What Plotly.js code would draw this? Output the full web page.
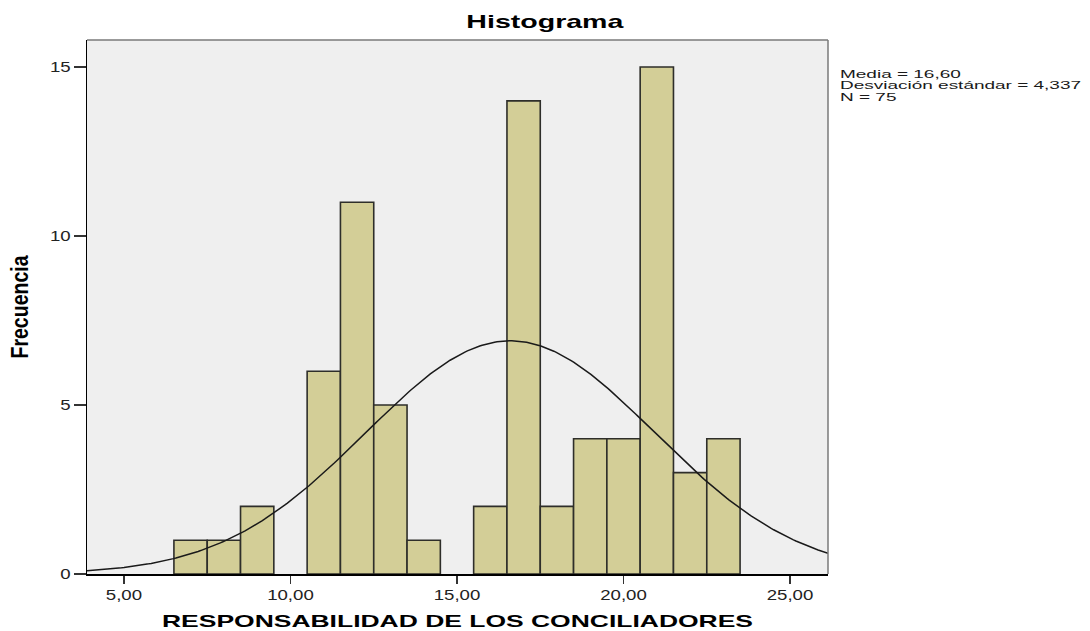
<!DOCTYPE html>
<html>
<head>
<meta charset="utf-8">
<script src="https://cdn.plot.ly/plotly-3.0.1.min.js"></script>
<style>
  html, body { margin: 0; padding: 0; background: #ffffff; }
  #chart { width: 1090px; height: 631px; }
</style>
</head>
<body>
<div id="chart"></div>
<script>
// ---- data ----
const binCenters = [7, 8, 9, 10, 11, 12, 13, 14, 15, 16, 17, 18, 19, 20, 21, 22, 23];
const binCounts  = [1, 1, 2, 0, 6, 11, 5, 1, 0, 2, 14, 2, 4, 4, 15, 3, 4];
const statMean = 16.60;
const statSD = 4.337;
const statN = 75;
const xTickVals = [5, 10, 15, 20, 25];
const xTickText = ["5,00", "10,00", "15,00", "20,00", "25,00"];
const yTickVals = [0, 5, 10, 15];
const yTickText = ["0", "5", "10", "15"];
const titleText = "Histograma";
const xTitleText = "RESPONSABILIDAD DE LOS CONCILIADORES";
const yTitleText = "Frecuencia";

// ---- styling ----
const FONT = "Liberation Sans, Arial, sans-serif";
const xRange = [3.89, 26.14];
const yRange = [0, 15.8];
const binWidth = 1;

// bars (zero bins omitted from drawing)
const bx = [], by = [];
binCenters.forEach((c, i) => { if (binCounts[i] > 0) { bx.push(c); by.push(binCounts[i]); } });

// fitted normal curve from the stated statistics
const cx = [], cy = [];
const steps = 300;
for (let k = 0; k <= steps; k++) {
  const x = xRange[0] + (xRange[1] - xRange[0]) * k / steps;
  const z = (x - statMean) / statSD;
  cx.push(x);
  cy.push(statN * binWidth / (statSD * Math.sqrt(2 * Math.PI)) * Math.exp(-0.5 * z * z));
}

const fmt = (v, d) => v.toFixed(d).replace('.', ',');

const traces = [
  {
    type: 'bar', x: bx, y: by, width: binWidth,
    marker: { color: '#d3ce97', line: { color: '#2e2e2a', width: 1.6 } },
    hoverinfo: 'x+y', showlegend: false
  },
  {
    type: 'scatter', mode: 'lines', x: cx, y: cy,
    line: { color: '#1a1a1a', width: 1.5 },
    hoverinfo: 'skip', showlegend: false
  }
];

const annY = [0.936, 0.915, 0.894];
const annText = [
  "Media = " + fmt(statMean, 2),
  "Desviación estándar = " + fmt(statSD, 3),
  "N = " + statN
];

const layout = {
  width: 1090, height: 631,
  margin: { l: 87, r: 262, t: 40, b: 57, pad: 0 },
  paper_bgcolor: '#ffffff',
  plot_bgcolor: '#efefef',
  bargap: 0,
  font: { family: FONT, color: '#1a1a1a' },
  title: {
    text: titleText,
    font: { family: FONT, size: 19, color: '#000000', weight: 'bold' },
    x: 0.5, xref: 'container', xanchor: 'center',
    y: 1 - 21 / 631, yref: 'container', yanchor: 'middle'
  },
  xaxis: {
    range: xRange, autorange: false,
    tickmode: 'array', tickvals: xTickVals, ticktext: xTickText,
    ticks: 'outside', ticklen: 8, tickwidth: 1.5, tickcolor: '#333333',
    tickfont: { family: FONT, size: 14, color: '#222222' },
    showline: true, linecolor: '#000000', linewidth: 1.5,
    showgrid: false, zeroline: false, automargin: false,
    title: { text: xTitleText, standoff: 15,
             font: { family: FONT, size: 17, color: '#000000', weight: 'bold' } }
  },
  yaxis: {
    range: yRange, autorange: false,
    tickmode: 'array', tickvals: yTickVals, ticktext: yTickText,
    ticks: 'outside', ticklen: 12, tickwidth: 1.5, tickcolor: '#333333',
    tickfont: { family: FONT, size: 14, color: '#222222' },
    showline: true, linecolor: '#000000', linewidth: 1.5,
    showgrid: false, zeroline: false, automargin: false,
    title: { text: yTitleText, standoff: 20,
             font: { family: FONT, size: 23, color: '#000000', weight: 'bold' } }
  },
  shapes: [
    { type: 'line', xref: 'paper', yref: 'paper', x0: 0, x1: 1, y0: 1, y1: 1,
      line: { color: '#7a7a7a', width: 1.5 } },
    { type: 'line', xref: 'paper', yref: 'paper', x0: 1, x1: 1, y0: 0, y1: 1,
      line: { color: '#7a7a7a', width: 1.5 } }
  ],
  annotations: annText.map((t, i) => ({
    text: t, xref: 'paper', yref: 'paper', x: 1.0135, y: annY[i],
    xanchor: 'left', yanchor: 'middle', showarrow: false, align: 'left',
    font: { family: FONT, size: 11.5, color: '#1a1a1a' }
  }))
};

function stretch(el, factor, keep) {
  if (!el) return;
  const w = el.getComputedTextLength();
  if (!w) return;
  const b0 = el.getBBox();
  el.setAttribute('textLength', (w * factor).toFixed(2));
  el.setAttribute('lengthAdjust', 'spacingAndGlyphs');
  const b1 = el.getBBox();
  let dx;
  if (keep === 'left') dx = b0.x - b1.x;
  else if (keep === 'right') dx = (b0.x + b0.width) - (b1.x + b1.width);
  else dx = (b0.x + b0.width / 2) - (b1.x + b1.width / 2);
  const x = parseFloat(el.getAttribute('x') || '0');
  el.setAttribute('x', (x + dx).toFixed(2));
}

Plotly.newPlot('chart', traces, layout, { displayModeBar: false, staticPlot: true }).then(gd => {
  // the reference's text is rendered wide horizontally; match the glyph proportions
  const t = gd.querySelector('text.gtitle');
  if (t) stretch(t, 157 / t.getComputedTextLength(), 'center');
  const xt = gd.querySelector('text.xtitle');
  if (xt) stretch(xt, 591 / xt.getComputedTextLength(), 'center');
  const yt = gd.querySelector('text.ytitle');
  if (yt) stretch(yt, 103 / yt.getComputedTextLength(), 'center');
  gd.querySelectorAll('g.xtick text').forEach(e => stretch(e, 1.33, 'center'));
  gd.querySelectorAll('g.ytick text').forEach(e => stretch(e, 1.33, 'right'));
  gd.querySelectorAll('text.annotation-text').forEach(e => stretch(e, 1.65, 'left'));
});
</script>
</body>
</html>
